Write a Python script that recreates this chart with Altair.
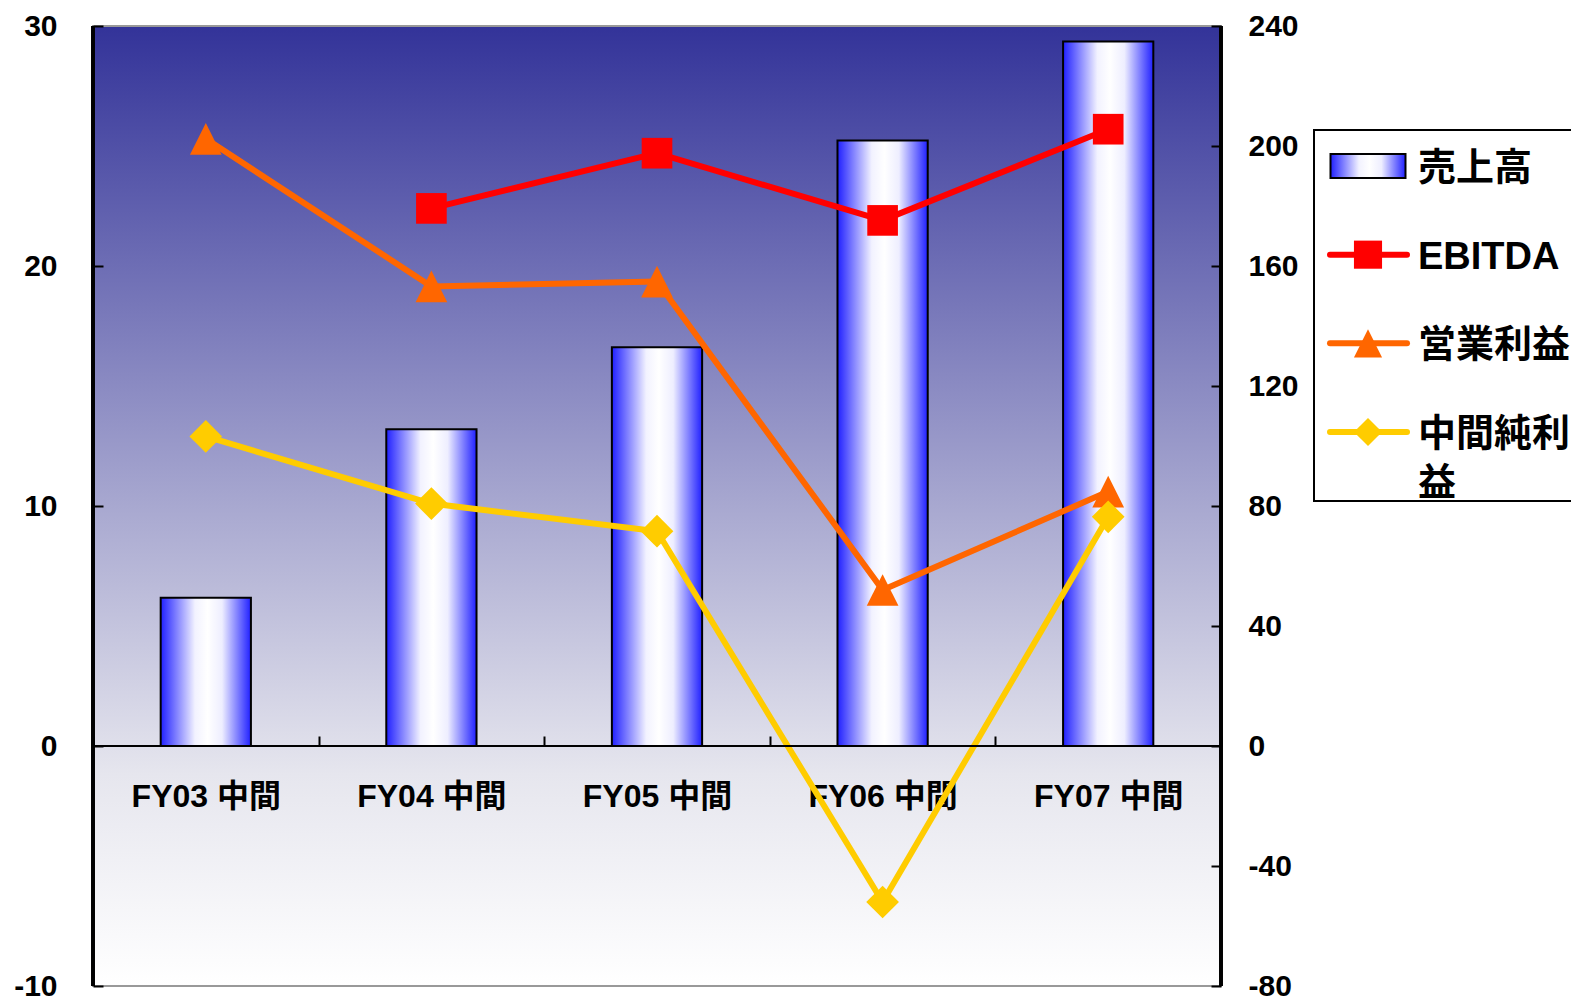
import altair as alt
import pandas as pd

# ---------------- data ----------------
categories = ["FY03 中間", "FY04 中間", "FY05 中間", "FY06 中間", "FY07 中間"]
sales = [49.4, 105.6, 132.9, 201.8, 234.8]            # 売上高 (right axis)
ebitda = [None, 22.4, 24.7, 21.9, 25.7]                # EBITDA (left axis)
operating = [25.3, 19.15, 19.35, 6.5, 10.6]            # 営業利益 (left axis)
net = [12.9, 10.1, 8.95, -6.5, 9.55]                   # 中間純利益 (left axis)

line_series = ["EBITDA", "営業利益", "中間純利益"]
line_colors = ["#FF0000", "#FF6600", "#FFCC00"]
legend_names = ["売上高", "EBITDA", "営業利益", "中間純利益"]
left_ticks = [-10, 0, 10, 20, 30]
right_ticks = [-80, -40, 0, 40, 80, 120, 160, 200, 240]

bars_df = pd.DataFrame({"cat": categories, "sales": sales})
rows = []
for s, vals in zip(line_series, [ebitda, operating, net]):
    for c, v in zip(categories, vals):
        if v is not None:
            rows.append({"cat": c, "series": s, "value": v})
lines_df = pd.DataFrame(rows)
legend_df = pd.DataFrame({"name": legend_names})

# ---------------- styles ----------------
FONT = "Liberation Sans, Noto Sans CJK JP, sans-serif"
W, H = 1128, 960
ZERO_FROM_BOTTOM = H * 10 / 40

bar_gradient = alt.Gradient(
    gradient="linear", x1=0, x2=1, y1=0, y2=0,
    stops=[
        alt.GradientStop(offset=0, color="#2020ff"),
        alt.GradientStop(offset=0.38, color="#f2f2ff"),
        alt.GradientStop(offset=0.52, color="#ffffff"),
        alt.GradientStop(offset=0.68, color="#eeeeff"),
        alt.GradientStop(offset=1, color="#2020ff"),
    ],
)

bg_expr = ("{gradient: 'linear', x1: 0, y1: 0, x2: 0, y2: 1, stops: ["
           "{offset: 0, color: '#333399'}, {offset: 0.5, color: '#a8a8d0'}, "
           "{offset: 0.78, color: '#e6e6ee'}, {offset: 1, color: '#ffffff'}]}")

x_axis = alt.Axis(
    orient="bottom", offset=-(ZERO_FROM_BOTTOM + 10), domain=False, ticks=True,
    tickBand="extent", tickSize=10, tickWidth=2, tickColor="black", labelPadding=35,
    labelFont=FONT, labelFontSize=32, labelFontWeight="bold", labelColor="black",
    labelAngle=0, labelBaseline="top", title=None, grid=False,
)
x_enc = alt.X("cat:N", scale=alt.Scale(domain=categories, paddingInner=0, paddingOuter=0),
              axis=x_axis)

left_axis = alt.Axis(
    orient="left", values=left_ticks, offset=-10, domain=False, tickSize=10,
    tickWidth=2, tickColor="black", labelPadding=36, labelFont=FONT,
    labelFontSize=30, labelFontWeight="bold", labelColor="black",
    labelFlush=False, grid=False, title=None, labelExpr="'' + datum.value",
)
right_axis = alt.Axis(
    orient="right", values=right_ticks, offset=-10, domain=False, tickSize=10,
    tickWidth=2, tickColor="black", labelPadding=27, labelFont=FONT,
    labelFontSize=30, labelFontWeight="bold", labelColor="black",
    labelFlush=False, grid=False, title=None, labelExpr="'' + datum.value",
)

color_scale = alt.Scale(domain=line_series, range=line_colors)
tri_path = "M0,-1L1,1L-1,1Z"
shape_scale = alt.Scale(domain=line_series, range=["square", tri_path, "diamond"])

# ---------------- main layers ----------------
bars = alt.Chart(bars_df).mark_bar(
    width=alt.RelativeBandSize(0.4), fill=bar_gradient, stroke="black", strokeWidth=2
).encode(
    x=x_enc,
    y=alt.Y("sales:Q", scale=alt.Scale(domain=[-80, 240], nice=False), axis=right_axis),
)

y_left = alt.Y("value:Q", scale=alt.Scale(domain=[-10, 30], nice=False, zero=False),
               axis=left_axis)

zero_rule = alt.Chart(lines_df).mark_rule(color="black", strokeWidth=2).encode(
    y=alt.datum(0)
)
left_edge = alt.Chart(lines_df).mark_rule(color="black", strokeWidth=2.5).encode(
    x=alt.value(0)
)
right_edge = alt.Chart(lines_df).mark_rule(color="black", strokeWidth=2.5).encode(
    x=alt.value("width")
)

lines = alt.Chart(lines_df).mark_line(strokeWidth=6, strokeJoin="round").encode(
    x=x_enc, y=y_left,
    color=alt.Color("series:N", scale=color_scale, legend=None),
)
points = alt.Chart(lines_df).mark_point(filled=True, opacity=1).encode(
    x=x_enc, y=y_left,
    color=alt.Color("series:N", scale=color_scale, legend=None),
    shape=alt.Shape("series:N", scale=shape_scale, legend=None),
    size=alt.Size("series:N", scale=alt.Scale(domain=line_series, range=[940, 1070, 1100]),
                  legend=None),
)

main_lines = alt.layer(lines, points, zero_rule, left_edge, right_edge)

# ---------------- legend (drawn as a layer) ----------------
leg_y = alt.Y("name:N", scale=alt.Scale(type="point", domain=legend_names,
                                        range=[140, 406], padding=0), axis=None)

leg_box = alt.Chart(legend_df).transform_filter(alt.datum.name == "売上高").mark_rect(
    fill="white", stroke="black", strokeWidth=2
).encode(x=alt.value(1221), x2=alt.value(1520), y=alt.value(104), y2=alt.value(475))

leg_bar = alt.Chart(legend_df).transform_filter(alt.datum.name == "売上高").mark_point(
    shape="M-1,-0.32H1V0.32H-1Z", size=5625, filled=True, fill=bar_gradient,
    stroke="black", strokeWidth=2, opacity=1
).encode(x=alt.value(1275), y=leg_y)

leg_rules = alt.Chart(legend_df).transform_filter(alt.datum.name != "売上高").mark_rule(
    strokeWidth=6, strokeCap="round"
).encode(
    x=alt.value(1237), x2=alt.value(1314), y=leg_y,
    color=alt.Color("name:N", scale=color_scale, legend=None),
)
leg_points = alt.Chart(legend_df).transform_filter(alt.datum.name != "売上高").mark_point(
    filled=True, opacity=1, size=790
).encode(
    x=alt.value(1275), y=leg_y,
    color=alt.Color("name:N", scale=color_scale, legend=None),
    shape=alt.Shape("name:N", scale=shape_scale, legend=None),
)
leg_text = alt.Chart(legend_df).transform_calculate(
    label="datum.name === '中間純利益' ? '中間純利\\n益' : datum.name"
).mark_text(
    align="left", baseline="top", dy=-16, font=FONT, fontSize=38, fontWeight="bold",
    lineBreak="\n", lineHeight=49, color="black"
).encode(x=alt.value(1325), y=leg_y, text="label:N")

legend_layer = alt.layer(leg_box, leg_bar, leg_rules, leg_points, leg_text)

chart = alt.layer(bars, main_lines, legend_layer).resolve_scale(
    y="independent"
).properties(
    width=W, height=H,
    autosize=alt.AutoSizeParams(type="none"),
    padding={"left": 85, "top": 18, "right": 350, "bottom": 14},
    view=alt.ViewBackground(fill=alt.ExprRef(expr=bg_expr), stroke="#999999", strokeWidth=2),
).configure(background="white")

chart.save("out.html", embed_options={"renderer": "svg", "actions": False})
